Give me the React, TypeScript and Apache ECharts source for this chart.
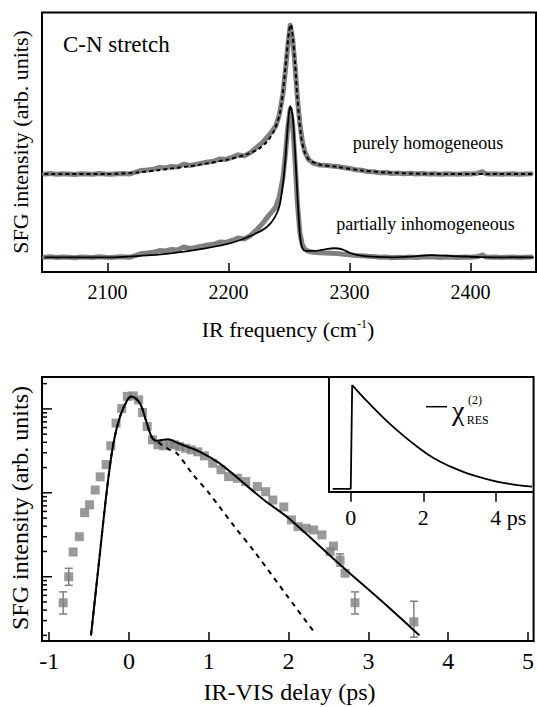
import React, { useEffect, useRef } from "react";
import * as echarts from "echarts";

const SERIF = "'Liberation Serif', 'Times New Roman', Times, serif";
const GRAY = "#808080";

// ---------- Top panel: SFG spectra (arb. units) ----------
const freqTicks = [2100, 2200, 2300, 2400];
const specFreq = [
  2048, 2053, 2058, 2063, 2068, 2073, 2078, 2083, 2088, 2093, 2098, 2103, 2108, 2113, 2118,
  2123, 2128, 2133, 2138, 2143, 2148, 2153, 2158, 2163, 2168, 2173, 2178, 2183, 2188, 2193,
  2198, 2203, 2208, 2213, 2218, 2223, 2228, 2233, 2236, 2239, 2242, 2245, 2247, 2249, 2251,
  2253, 2255, 2257, 2259, 2261, 2263, 2266, 2270, 2275, 2280, 2285, 2290, 2295, 2300, 2305,
  2310, 2315, 2320, 2325, 2330, 2335, 2340, 2345, 2350, 2355, 2360, 2365, 2370, 2375, 2380,
  2385, 2390, 2395, 2400, 2405, 2410, 2412, 2415, 2420, 2425, 2430, 2435, 2440, 2445, 2450,
];
const homSpectrum = [
  36.0, 36.2, 35.9, 36.1, 36.0, 35.8, 36.1, 36.0, 35.9, 36.2, 36.0, 35.9, 36.1, 36.2, 36.0,
  36.6, 37.4, 37.6, 37.9, 38.6, 38.4, 39.0, 38.8, 39.9, 39.4, 39.8, 40.3, 40.8, 41.1, 42.0,
  41.8, 42.6, 43.6, 43.2, 44.4, 46.5, 48.5, 51.2, 53.0, 55.0, 59.5, 68.0, 77.0, 87.0, 95.2,
  90.0, 79.0, 66.0, 56.0, 49.0, 45.0, 41.8, 40.3, 39.6, 39.5, 39.2, 39.0, 38.6, 38.2, 37.7,
  37.5, 37.0, 36.9, 36.5, 36.6, 36.2, 36.4, 36.1, 36.3, 36.0, 36.2, 36.0, 36.1, 35.9, 36.1,
  36.0, 35.9, 36.1, 36.0, 36.2, 36.9, 36.2, 36.0, 36.1, 35.9, 36.0, 36.1, 35.9, 36.0, 36.1,
];
const inhSpectrum = [
  2.8, 3.0, 2.7, 2.9, 2.8, 2.6, 2.9, 2.8, 2.7, 3.0, 2.8, 2.7, 2.9, 3.0, 2.8,
  3.5, 4.3, 4.5, 4.8, 5.5, 5.3, 5.9, 5.7, 6.9, 6.3, 6.7, 7.2, 7.7, 8.0, 8.9,
  8.7, 9.5, 10.5, 10.1, 11.4, 13.6, 16.2, 19.3, 21.0, 22.8, 27.0, 34.5, 43.5, 54.5, 62.0,
  56.0, 41.0, 24.0, 12.5, 7.8, 6.0, 5.2, 4.8, 4.6, 4.5, 4.4, 4.3, 4.0, 3.8, 3.5,
  3.4, 3.2, 3.1, 2.8, 2.9, 2.6, 2.8, 2.7, 2.9, 2.7, 2.9, 3.0, 2.9, 2.7, 2.9,
  2.8, 2.7, 2.9, 2.8, 3.0, 3.8, 3.0, 2.8, 2.9, 2.7, 2.8, 2.9, 2.7, 2.8, 2.9,
];
const homFitFreq = [
  2048, 2100, 2125, 2150, 2175, 2200, 2215, 2225, 2232, 2238, 2243, 2247, 2250, 2251.5,
  2253, 2255, 2257, 2260, 2263, 2267, 2275, 2290, 2310, 2330, 2360, 2400, 2452,
];
const homFitCurve = [
  36.0, 36.0, 36.6, 38.0, 39.6, 41.8, 43.8, 46.0, 49.0, 53.5, 61.5, 78.0, 93.0, 95.5,
  91.0, 80.0, 66.0, 51.0, 44.5, 41.5, 39.8, 38.8, 37.4, 36.6, 36.1, 36.0, 36.0,
];
const inhFitFreq = [
  2048, 2100, 2124, 2152, 2181, 2203, 2220, 2232, 2238, 2242, 2245, 2247, 2249, 2251, 2253,
  2255, 2257, 2259, 2261, 2264, 2272, 2280, 2287, 2294, 2300, 2308, 2318, 2337, 2351, 2368,
  2385, 2408, 2452,
];
const inhFitCurve = [
  2.8, 2.8, 3.3, 4.4, 6.4, 8.6, 11.7, 15.0, 18.5, 23.0, 32.0, 42.0, 55.0, 63.0, 59.0,
  45.0, 27.0, 12.0, 6.5, 5.4, 5.4, 6.0, 6.4, 6.0, 4.6, 3.6, 3.1, 2.8, 3.1, 3.7,
  3.3, 2.9, 2.8,
];

// ---------- Bottom panel: delay scan (log scale) ----------
const delayTicks = [-1, 0, 1, 2, 3, 4, 5];
const scanDelay = [
  -0.825, -0.755, -0.7, -0.622, -0.556, -0.494, -0.423, -0.361, -0.286, -0.228, -0.162, -0.091,
  -0.021, 0.053, 0.121, 0.17, 0.228, 0.295, 0.364, 0.435, 0.51, 0.572, 0.634, 0.709, 0.78,
  0.862, 0.945, 1.049, 1.153, 1.248, 1.359, 1.464, 1.608, 1.713, 1.803, 1.94, 2.036, 2.118,
  2.218, 2.313, 2.417, 2.521, 2.562, 2.645, 2.708, 2.832, 3.57,
];
const scanSignal = [
  0.49, 1.0, 1.97, 3.0, 5.8, 7.2, 10.8, 15.5, 21.7, 36.3, 67.7, 101,
  141, 143, 128, 90.6, 61.7, 42.8, 37.3, 36.3, 38.4, 37.3, 35.6, 34.0, 32.5,
  30.8, 27.6, 22.5, 18.8, 15.6, 14.9, 13.6, 11.9, 10.3, 8.2, 6.8, 4.75, 3.95,
  3.78, 3.61, 3.15, 1.99, 2.32, 1.58, 1.1, 0.49, 0.29,
];
const errDelay = [-0.825, -0.755, 2.645, 2.832, 3.57];
const errLow = [0.36, 0.79, 1.34, 0.36, 0.19];
const errHigh = [0.66, 1.26, 1.87, 0.66, 0.51];
const fitDelay = [
  -0.476, -0.382, -0.277, -0.195, -0.112, -0.021, 0.033, 0.137, 0.211, 0.282, 0.344, 0.489,
  0.634, 0.883, 1.132, 1.381, 1.692, 2.002, 2.624, 3.246, 3.64,
];
const fitCurve = [
  0.2, 1.32, 10.8, 39, 81, 128, 141, 117, 74, 46.9, 41.6, 43.6,
  38.4, 31, 22.6, 14.5, 8.2, 4.98, 1.45, 0.44, 0.2,
];
const dashDelay = [
  -0.476, -0.382, -0.277, -0.195, -0.112, -0.021, 0.033, 0.137, 0.211, 0.282, 0.344, 0.42,
  0.5, 0.6, 0.8, 1.0, 1.318, 1.588, 2.0, 2.334,
];
const dashCurve = [
  0.2, 1.32, 10.8, 39, 81, 128, 141, 117, 74, 46.9, 41, 37,
  33, 29.5, 16.6, 10, 4.0, 1.9, 0.56, 0.21,
];
const yMajorTicks = [1, 10, 100];
const yMinorTicks = [
  0.2, 0.3, 0.4, 0.5, 0.6, 0.7, 0.8, 0.9,
  2, 3, 4, 5, 6, 7, 8, 9,
  20, 30, 40, 50, 60, 70, 80, 90, 200,
];

// ---------- Inset: chi(2)_RES response ----------
const insetTicks = [0, 2, 4];
const chiTime = [-0.5, 0.0, 0.04, 0.46, 0.917, 1.377, 1.837, 2.295, 2.755, 3.215, 3.672, 4.132, 4.592, 5.0];
const chiValue = [0.024, 0.024, 0.93, 0.785, 0.64, 0.509, 0.392, 0.291, 0.218, 0.16, 0.117, 0.082, 0.058, 0.044];

const zip = (a: number[], b: number[]) => a.map((x, i) => [x, b[i]]);

const DELAY_MIN = -1.09;

export default function App() {
  const ref = useRef<HTMLDivElement>(null);

  useEffect(() => {
    if (!ref.current) return;
    const chart = echarts.init(ref.current, undefined, { renderer: "svg" });

    const axisLineBlack = { show: true, onZero: false, lineStyle: { color: "#000", width: 2 } };

    const option: any = {
      animation: false,
      backgroundColor: "#fff",
      textStyle: { fontFamily: SERIF },
      grid: [
        { left: 42, top: 12.5, width: 494, height: 259.5, show: true, borderColor: "#000", borderWidth: 2, backgroundColor: "transparent" },
        { left: 42, top: 377, width: 494, height: 264, show: true, borderColor: "#000", borderWidth: 2, backgroundColor: "transparent" },
        { left: 329, top: 377, width: 203, height: 114.7, show: false },
      ],
      xAxis: [
        {
          gridIndex: 0, type: "value", min: 2046, max: 2454,
          axisLine: axisLineBlack,
          axisTick: { show: true, inside: true, length: 9, customValues: freqTicks, lineStyle: { color: "#000", width: 1.5 } },
          axisLabel: {
            customValues: freqTicks, fontSize: 20, fontFamily: SERIF, color: "#000", margin: 10,
            formatter: (v: number) => String(v),
          },
          splitLine: { show: false },
        },
        {
          gridIndex: 1, type: "value", min: DELAY_MIN, max: 5.07,
          axisLine: axisLineBlack,
          axisTick: { show: true, inside: true, length: 9, customValues: delayTicks, lineStyle: { color: "#000", width: 1.5 } },
          axisLabel: {
            customValues: delayTicks, fontSize: 24, fontFamily: SERIF, color: "#000", margin: 8,
            formatter: (v: number) => String(v),
          },
          splitLine: { show: false },
        },
        {
          gridIndex: 2, type: "value", min: -0.6, max: 5.0,
          axisLine: axisLineBlack,
          axisTick: { show: true, inside: false, length: 10, customValues: insetTicks, lineStyle: { color: "#000", width: 1.5 } },
          axisLabel: {
            customValues: insetTicks, fontSize: 22, fontFamily: SERIF, color: "#000", margin: 15,
            formatter: (v: number) => (v === 4 ? "{p|4 ps}" : String(v)),
            rich: { p: { fontSize: 22, fontFamily: SERIF, color: "#000", padding: [0, 0, 0, 25] } },
          },
          splitLine: { show: false },
        },
      ],
      yAxis: [
        { gridIndex: 0, type: "value", min: -3.05, max: 100.3, show: false, splitLine: { show: false } },
        { gridIndex: 1, type: "log", logBase: 10, min: 0.1714, max: 240, show: false, splitLine: { show: false } },
        {
          gridIndex: 2, type: "value", min: 0, max: 1,
          axisLine: axisLineBlack, axisTick: { show: false }, axisLabel: { show: false }, splitLine: { show: false },
        },
      ],
      series: [
        // top panel
        {
          type: "line", xAxisIndex: 0, yAxisIndex: 0, data: zip(specFreq, homSpectrum), showSymbol: false,
          lineStyle: { color: GRAY, width: 5, join: "round", cap: "round" }, z: 2,
        },
        {
          type: "line", xAxisIndex: 0, yAxisIndex: 0, data: zip(specFreq, inhSpectrum), showSymbol: false,
          lineStyle: { color: GRAY, width: 5, join: "round", cap: "round" }, z: 2,
        },
        {
          type: "line", xAxisIndex: 0, yAxisIndex: 0, data: zip(homFitFreq, homFitCurve), showSymbol: false, smooth: 0.3,
          lineStyle: { color: "#000", width: 2, type: [4, 3] }, z: 3,
        },
        {
          type: "line", xAxisIndex: 0, yAxisIndex: 0, data: zip(inhFitFreq, inhFitCurve), showSymbol: false, smooth: 0.3,
          lineStyle: { color: "#000", width: 1.8 }, z: 3,
        },
        // bottom panel
        {
          type: "scatter", xAxisIndex: 1, yAxisIndex: 1, data: zip(scanDelay, scanSignal),
          symbol: "rect", symbolSize: 9, itemStyle: { color: GRAY }, z: 2,
        },
        {
          type: "custom", xAxisIndex: 1, yAxisIndex: 1, z: 2,
          data: errDelay.map((x, i) => [x, errLow[i], errHigh[i]]),
          encode: { x: 0, y: [1, 2] },
          renderItem: (_p: any, api: any) => {
            const x = api.value(0);
            const lo = api.coord([x, api.value(1)]);
            const hi = api.coord([x, api.value(2)]);
            const st = { stroke: GRAY, lineWidth: 1.5 };
            return {
              type: "group",
              children: [
                { type: "line", shape: { x1: lo[0], y1: lo[1], x2: hi[0], y2: hi[1] }, style: st },
                { type: "line", shape: { x1: lo[0] - 4, y1: lo[1], x2: lo[0] + 4, y2: lo[1] }, style: st },
                { type: "line", shape: { x1: hi[0] - 4, y1: hi[1], x2: hi[0] + 4, y2: hi[1] }, style: st },
              ],
            };
          },
        },
        {
          type: "line", xAxisIndex: 1, yAxisIndex: 1, data: zip(dashDelay, dashCurve), showSymbol: false, smooth: 0.3,
          lineStyle: { color: "#000", width: 2, type: [5, 5] }, z: 3,
        },
        {
          type: "line", xAxisIndex: 1, yAxisIndex: 1, data: zip(fitDelay, fitCurve), showSymbol: false, smooth: 0.3,
          lineStyle: { color: "#000", width: 2 }, z: 4,
        },
        {
          type: "custom", xAxisIndex: 1, yAxisIndex: 1, z: 5, clip: false, silent: true,
          data: [
            ...yMajorTicks.map((v) => [DELAY_MIN, v, 10]),
            ...yMinorTicks.map((v) => [DELAY_MIN, v, 5]),
          ],
          encode: { x: 0, y: 1 },
          renderItem: (_p: any, api: any) => {
            const p = api.coord([api.value(0), api.value(1)]);
            const len = api.value(2);
            return {
              type: "line",
              shape: { x1: p[0], y1: p[1], x2: p[0] + len, y2: p[1] },
              style: { stroke: "#000", lineWidth: 1.5 },
            };
          },
        },
        // inset
        {
          type: "line", xAxisIndex: 2, yAxisIndex: 2, data: zip(chiTime.slice(0, 3), chiValue.slice(0, 3)), showSymbol: false,
          lineStyle: { color: "#000", width: 1.8 }, z: 3,
        },
        {
          type: "line", xAxisIndex: 2, yAxisIndex: 2, data: zip(chiTime.slice(2), chiValue.slice(2)), showSymbol: false, smooth: 0.4,
          lineStyle: { color: "#000", width: 1.8 }, z: 3,
        },
      ],
      graphic: [
        {
          type: "text", x: 20.5, y: 142, rotation: Math.PI / 2,
          style: { text: "SFG intensity (arb. units)", font: `22px ${SERIF}`, fill: "#000", align: "center", verticalAlign: "middle" },
        },
        {
          type: "text", x: 288, y: 329,
          style: {
            text: "IR frequency (cm{s|-1})", font: `22px ${SERIF}`, fill: "#000", align: "center", verticalAlign: "middle",
            rich: { s: { fontSize: 12, fontFamily: SERIF, fill: "#000", verticalAlign: "top" } },
          },
        },
        {
          type: "text", x: 63, y: 44.6,
          style: { text: "C-N stretch", font: `23px ${SERIF}`, fill: "#000", align: "left", verticalAlign: "middle" },
        },
        {
          type: "text", x: 352.7, y: 142.7,
          style: { text: "purely homogeneous", font: `18px ${SERIF}`, fill: "#000", align: "left", verticalAlign: "middle" },
        },
        {
          type: "text", x: 336.3, y: 223.7,
          style: { text: "partially inhomogeneous", font: `18px ${SERIF}`, fill: "#000", align: "left", verticalAlign: "middle" },
        },
        {
          type: "text", x: 20, y: 508, rotation: Math.PI / 2,
          style: { text: "SFG intensity (arb. units)", font: `24px ${SERIF}`, fill: "#000", align: "center", verticalAlign: "middle" },
        },
        {
          type: "text", x: 289.5, y: 692,
          style: { text: "IR-VIS delay (ps)", font: `24px ${SERIF}`, fill: "#000", align: "center", verticalAlign: "middle" },
        },
        {
          type: "line", shape: { x1: 426, y1: 406.7, x2: 447, y2: 406.7 },
          style: { stroke: "#000", lineWidth: 1.5 },
        },
        {
          type: "text", x: 452, y: 410,
          style: { text: "χ", font: `28px ${SERIF}`, fill: "#000", align: "left", verticalAlign: "middle" },
        },
        {
          type: "text", x: 468, y: 400,
          style: { text: "(2)", font: `12px ${SERIF}`, fill: "#000", align: "left", verticalAlign: "middle" },
        },
        {
          type: "text", x: 466.7, y: 420,
          style: { text: "RES", font: `12px ${SERIF}`, fill: "#000", align: "left", verticalAlign: "middle" },
        },
      ],
    };

    chart.setOption(option);
    return () => chart.dispose();
  }, []);

  return (
    <div
      ref={ref}
      style={{ position: "fixed", left: 0, top: 0, width: 537, height: 707, background: "#fff" }}
    />
  );
}
